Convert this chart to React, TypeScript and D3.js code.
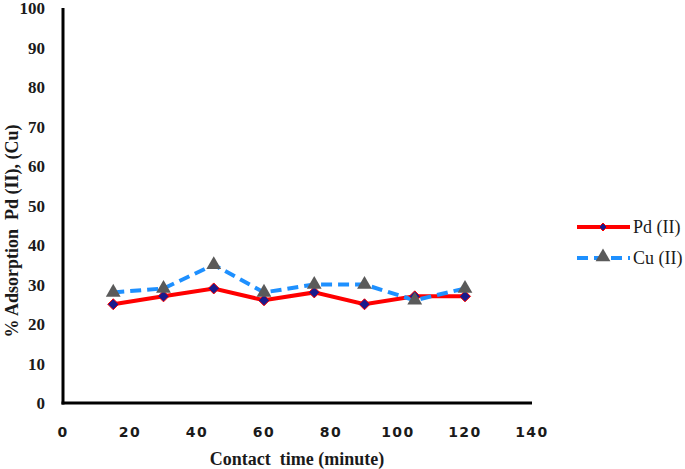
import React, { useEffect, useRef } from 'react'
import * as d3 from 'd3'

const times = [15, 30, 45, 60, 75, 90, 105, 120]
const pdValues = [25, 27, 29, 26, 28, 25, 27, 27]
const cuValues = [28, 29, 35, 28, 30, 30, 26, 29]
const xTicks = [0, 20, 40, 60, 80, 100, 120, 140]
const yTicks = [0, 10, 20, 30, 40, 50, 60, 70, 80, 90, 100]

const App = () => {
  const ref = useRef<SVGSVGElement>(null)

  useEffect(() => {
    const svg = d3.select(ref.current)
    svg.selectAll('*').remove()

    const x = d3.scaleLinear().domain([0, 140]).range([63, 532])
    const y = d3.scaleLinear().domain([0, 100]).range([403, 8])

    // axis lines
    svg.append('line').attr('x1', x(0)).attr('x2', x(0)).attr('y1', y(100)).attr('y2', y(0) + 1.5)
      .attr('stroke', '#000').attr('stroke-width', 3)
    svg.append('line').attr('x1', x(0) - 1.5).attr('x2', x(140)).attr('y1', y(0)).attr('y2', y(0))
      .attr('stroke', '#000').attr('stroke-width', 3)

    // tick labels
    svg.selectAll('.yt').data(yTicks).enter().append('text')
      .attr('x', 45).attr('y', d => y(d) + 6)
      .attr('text-anchor', 'end')
      .style('font-family', 'Liberation Serif').style('font-weight', 'bold').style('font-size', '17px')
      .attr('fill', '#1a1a1a')
      .text(d => d)

    svg.selectAll('.xt').data(xTicks).enter().append('text')
      .attr('x', d => x(d)).attr('y', 437)
      .attr('text-anchor', 'middle')
      .style('font-family', 'DejaVu Sans').style('font-weight', 'bold').style('font-size', '14px')
      .style('letter-spacing', '1.5px')
      .attr('fill', '#1a1a1a')
      .text(d => d)

    // axis titles
    svg.append('text')
      .attr('transform', `translate(18,${231}) rotate(-90)`)
      .attr('text-anchor', 'middle')
      .style('font-family', 'Liberation Serif').style('font-weight', 'bold').style('font-size', '18px')
      .attr('fill', '#1a1a1a')
      .attr('xml:space', 'preserve')
      .text('% Adsorption  Pd (II), (Cu)')

    svg.append('text')
      .attr('x', 297).attr('y', 465)
      .attr('text-anchor', 'middle')
      .style('font-family', 'Liberation Serif').style('font-weight', 'bold').style('font-size', '18px')
      .attr('fill', '#1a1a1a')
      .attr('xml:space', 'preserve')
      .text('Contact  time (minute)')

    const line = d3.line<number>().x((_, i) => x(times[i]))

    // Pd series
    svg.append('path').datum(pdValues)
      .attr('d', line.y(d => y(d)))
      .attr('fill', 'none').attr('stroke', '#ff0000').attr('stroke-width', 4)

    // Cu series
    svg.append('path').datum(cuValues)
      .attr('d', line.y(d => y(d)))
      .attr('fill', 'none').attr('stroke', '#1e90ff').attr('stroke-width', 4)
      .attr('stroke-dasharray', '11,6')

    const diamond = 'M0,-5.5L5.5,0L0,5.5L-5.5,0Z'
    const triangle = d3.symbol().type(d3.symbolTriangle).size(95)

    svg.selectAll('.pd').data(pdValues).enter().append('path')
      .attr('d', diamond)
      .attr('transform', (d, i) => `translate(${x(times[i])},${y(d)})`)
      .attr('fill', '#1a1a8c').attr('stroke', '#ff0000').attr('stroke-width', 1)

    svg.selectAll('.cu').data(cuValues).enter().append('path')
      .attr('d', triangle)
      .attr('transform', (d, i) => `translate(${x(times[i])},${y(d)})`)
      .attr('fill', '#5a5a5a')

    // legend
    const lg = svg.append('g')
    lg.append('line').attr('x1', 577).attr('x2', 630).attr('y1', 227).attr('y2', 227)
      .attr('stroke', '#ff0000').attr('stroke-width', 4)
    lg.append('path').attr('d', 'M0,-4L4,0L0,4L-4,0Z').attr('transform', 'translate(603,227)')
      .attr('fill', '#1a1a8c').attr('stroke', '#ff0000').attr('stroke-width', 1)
    lg.append('text').attr('x', 633).attr('y', 233)
      .style('font-family', 'Liberation Serif').style('font-size', '18px').attr('fill', '#1a1a1a')
      .text('Pd (II)')

    lg.append('line').attr('x1', 577).attr('x2', 630).attr('y1', 258).attr('y2', 258)
      .attr('stroke', '#1e90ff').attr('stroke-width', 4).attr('stroke-dasharray', '11,6')
    lg.append('path').attr('d', triangle).attr('transform', 'translate(603,257)')
      .attr('fill', '#5a5a5a')
    lg.append('text').attr('x', 633).attr('y', 264)
      .style('font-family', 'Liberation Serif').style('font-size', '18px').attr('fill', '#1a1a1a')
      .text('Cu (II)')
  })

  return (
    <svg ref={ref} width={685} height={469}
      style={{ position: 'absolute', left: 0, top: 0, background: '#fff' }} />
  )
}

export default App
